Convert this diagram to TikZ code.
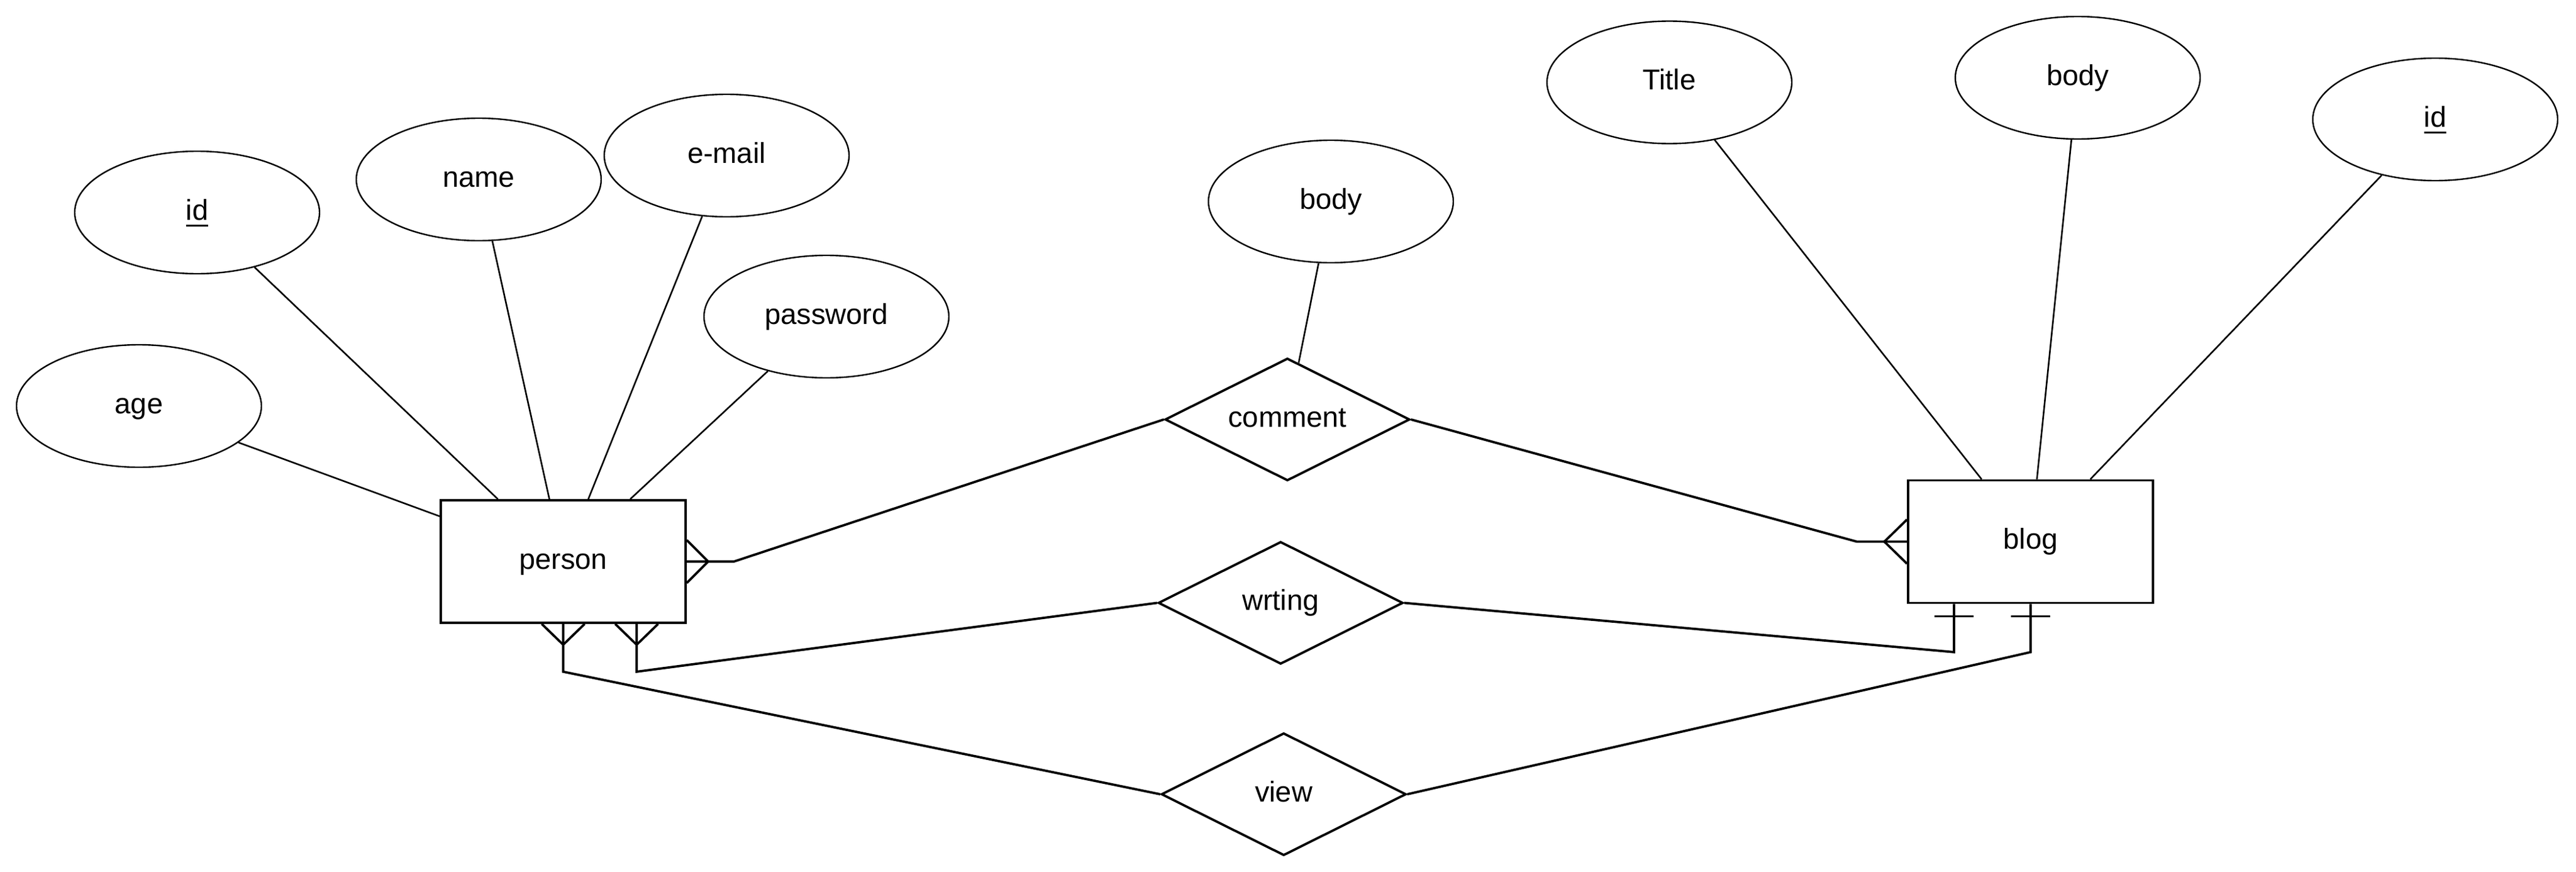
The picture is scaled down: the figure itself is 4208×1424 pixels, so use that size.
\documentclass[tikz,border=0pt]{standalone}
\usepackage{fontspec}
\setmainfont{Liberation Sans}
\usetikzlibrary{shapes.geometric,calc}
\newcommand{\myuline}[1]{\setbox0\hbox{#1}\rlap{\rule[-2.55pt]{\wd0}{0.7pt}}\box0}
\begin{document}
\begin{tikzpicture}[x=0.25pt,y=-0.25pt,
  every node/.style={font=\fontsize{11.75pt}{14pt}\selectfont, text height=9pt, text depth=2.8pt, inner sep=0pt},
  attr/.style={ellipse, draw, line width=0.6pt, minimum width=100pt, minimum height=50pt},
  entity/.style={rectangle, draw, line width=0.95pt, minimum width=100pt, minimum height=50pt},
  relship/.style={diamond, aspect=2, draw, line width=0.95pt, minimum width=100pt, minimum height=50pt},
  attrline/.style={line width=0.65pt},
  relline/.style={line width=0.95pt}]
\useasboundingbox[fill=white] (0,0) rectangle (4208,1424);

% entities
\node[entity] (person) at (920,917) {person};
\node[entity] (blog) at (3317,884.5) {blog};

% relationships
\node[relship] (comment) at (2103,685) {comment};
\node[relship] (wrting) at (2092,984.5) {wrting};
\node[relship] (view) at (2097,1297) {view};

% attributes
\node[attr] (idp) at (322,347) {\myuline{id}};
\node[attr] (name) at (782,293) {name};
\node[attr] (email) at (1187,254) {e-mail};
\node[attr] (password) at (1350,517) {password};
\node[attr] (age) at (227,663) {age};
\node[attr] (cbody) at (2174,329) {body};
\node[attr] (title) at (2727,134.5) {Title};
\node[attr] (bbody) at (3394,127) {body};
\node[attr] (idb) at (3978,195) {\myuline{id}};

% attribute lines
\draw[attrline] (age) -- (person);
\draw[attrline] (idp) -- (person);
\draw[attrline] (name) -- (person);
\draw[attrline] (email) -- (person);
\draw[attrline] (password) -- (person);
\draw[attrline] (cbody) -- (comment);
\draw[attrline] (title) -- (blog);
\draw[attrline] (bbody) -- (blog);
\draw[attrline] (idb) -- (blog);

% comment: person (many) -- blog (many)
\coordinate (pc) at ($(person.east)+(77,0)$);
\coordinate (bc) at ($(blog.west)+(-82,0)$);
\draw[relline] (person.east) -- (pc) -- (comment.west);
\draw[relline] ($(person.east)+(0,-35)$) -- ($(person.east)+(35,0)$) -- ($(person.east)+(0,35)$);
\draw[relline] (comment.east) -- (bc) -- (blog.west);
\draw[relline] ($(blog.west)+(0,-36)$) -- ($(blog.west)+(-37,0)$) -- ($(blog.west)+(0,36)$);

% wrting: person (many) -- blog (one)
\coordinate (pwa) at ($(person.south)+(120,0)$);
\coordinate (pw) at ($(person.south)+(120,78)$);
\coordinate (bwa) at ($(blog.south)+(-125,0)$);
\coordinate (bw) at ($(blog.south)+(-125,78.5)$);
\draw[relline] (pwa) -- (pw) -- (wrting.west);
\draw[relline] ($(pwa)+(-35,0)$) -- ($(pwa)+(0,34)$) -- ($(pwa)+(35,0)$);
\draw[relline] (wrting.east) -- (bw) -- (bwa);
\draw[relline] ($(bwa)+(-32,20)$) -- ($(bwa)+(32,20)$);

% view: person (many) -- blog (one)
\coordinate (pv) at ($(person.south)+(0,78)$);
\coordinate (bv) at ($(blog.south)+(0,78.5)$);
\draw[relline] (person.south) -- (pv) -- (view.west);
\draw[relline] ($(person.south)+(-35,0)$) -- ($(person.south)+(0,34)$) -- ($(person.south)+(35,0)$);
\draw[relline] (view.east) -- (bv) -- (blog.south);
\draw[relline] ($(blog.south)+(-32,20)$) -- ($(blog.south)+(32,20)$);
\end{tikzpicture}
\end{document}
